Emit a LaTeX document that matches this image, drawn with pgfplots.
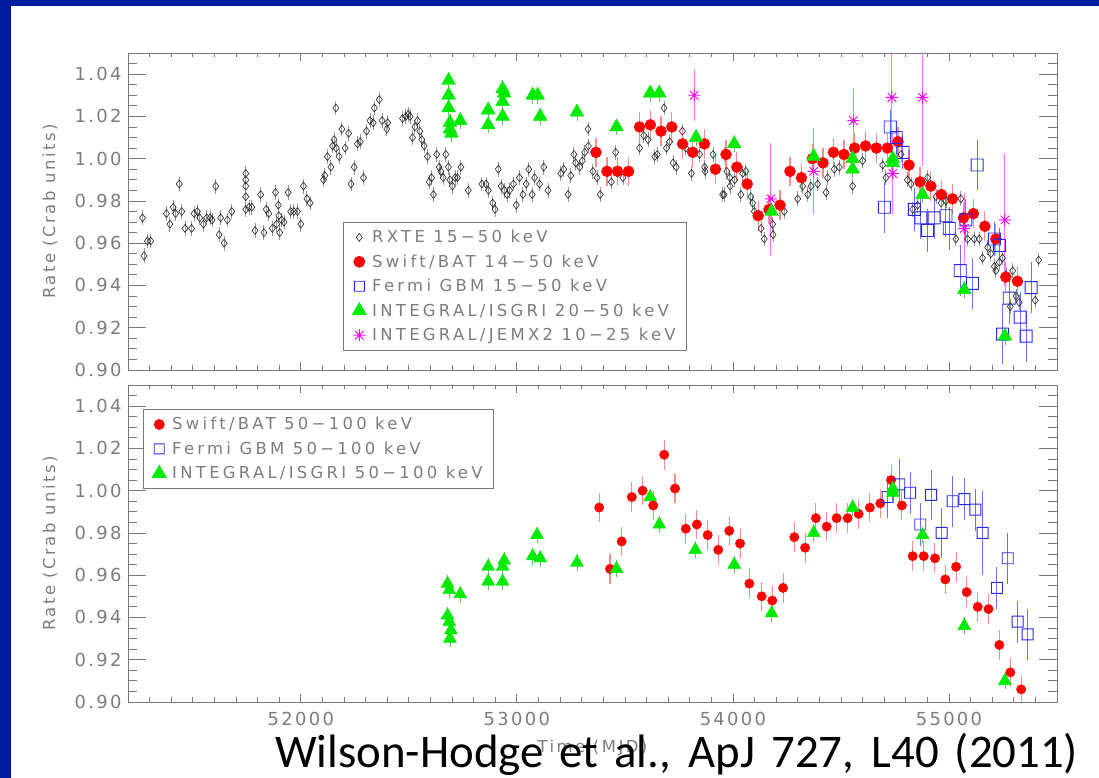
\documentclass[border=0pt]{standalone}
\usepackage{fontspec}
\setmainfont{DejaVu Sans}
\newfontfamily\legfont[LetterSpace=20]{DejaVu Sans}
\newfontfamily\labfont[LetterSpace=15]{DejaVu Sans}
\newfontfamily\tickfont[LetterSpace=13]{DejaVu Sans}
\newfontfamily\capfont{Carlito}
\usepackage{pgfplots}
\usepackage{pgfplotstable}
\pgfplotsset{compat=1.18}

\definecolor{frameblue}{RGB}{0,26,160}
\definecolor{axgray}{RGB}{120,120,120}
\definecolor{txtgray}{RGB}{125,125,125}
\definecolor{mred}{RGB}{255,0,0}
\definecolor{ered}{RGB}{255,140,140}
\definecolor{mgreen}{RGB}{0,235,0}
\definecolor{egreen}{RGB}{90,200,90}
\definecolor{mblue}{RGB}{40,40,235}
\definecolor{eblue}{RGB}{110,110,255}
\definecolor{mmag}{RGB}{255,0,255}
\definecolor{emag}{RGB}{255,120,255}

\pgfplotstableread{
x y e
54701 0.977 0.012
54728 1.015 0.008
54756 1.010 0.008
54787 1.003 0.008
54840 0.976 0.010
54870 0.972 0.010
54901 0.966 0.010
54932 0.972 0.010
54986 0.973 0.010
55001 0.967 0.010
55052 0.947 0.012
55078 0.971 0.010
55109 0.941 0.012
55130 0.997 0.012
55210 0.962 0.008
55233 0.959 0.008
55248 0.917 0.014
55279 0.934 0.012
55329 0.925 0.012
55357 0.916 0.012
55380 0.939 0.012
}\gbmtop

\pgfplotstableread{
x y e
54716 0.997 0.010
54770 1.003 0.012
54820 0.999 0.010
54867 0.984 0.010
54917 0.998 0.012
54966 0.980 0.012
55017 0.995 0.012
55071 0.996 0.010
55122 0.991 0.010
55156 0.980 0.020
55222 0.954 0.010
55272 0.968 0.012
55318 0.938 0.010
55364 0.932 0.012
}\gbmbot

\pgfdeclareplotmark{idlstar}{%
  \pgfpathmoveto{\pgfqpoint{-\pgfplotmarksize}{0pt}}\pgfpathlineto{\pgfqpoint{\pgfplotmarksize}{0pt}}%
  \pgfpathmoveto{\pgfqpoint{0pt}{-\pgfplotmarksize}}\pgfpathlineto{\pgfqpoint{0pt}{\pgfplotmarksize}}%
  \pgfpathmoveto{\pgfqpoint{-0.7071\pgfplotmarksize}{-0.7071\pgfplotmarksize}}\pgfpathlineto{\pgfqpoint{0.7071\pgfplotmarksize}{0.7071\pgfplotmarksize}}%
  \pgfpathmoveto{\pgfqpoint{-0.7071\pgfplotmarksize}{0.7071\pgfplotmarksize}}\pgfpathlineto{\pgfqpoint{0.7071\pgfplotmarksize}{-0.7071\pgfplotmarksize}}%
  \pgfusepathqstroke}
% open square drawn as a filled frame (outer minus inner square)
\pgfdeclareplotmark{opensq}{%
  \pgfscope
  \pgfsetfillcolor{mblue}%
  \pgfpathrectangle{\pgfpoint{-\pgfplotmarksize-0.45bp}{-\pgfplotmarksize-0.45bp}}{\pgfpoint{2\pgfplotmarksize+0.9bp}{2\pgfplotmarksize+0.9bp}}%
  \pgfpathrectangle{\pgfpoint{-\pgfplotmarksize+0.45bp}{-\pgfplotmarksize+0.45bp}}{\pgfpoint{2\pgfplotmarksize-0.9bp}{2\pgfplotmarksize-0.9bp}}%
  \pgfseteorule
  \pgfusepathqfill
  \endpgfscope}

\pgfplotsset{
  panelbase/.style={
    scale only axis, width=929bp, height=317bp,
    xmin=51200, xmax=55500, ymin=0.90, ymax=1.05,
    scaled x ticks=false, scaled y ticks=false,
    tick align=inside, tick pos=both,
    axis line style={draw=axgray, line width=0.9bp},
    tick style={draw=axgray, line width=0.8bp},
    ticklabel style={font=\tickfont\fontsize{18}{20}\selectfont, text=txtgray},
  },
  yframe/.style={panelbase,
    xtick=\empty,
    ytick={0.90,0.92,0.94,0.96,0.98,1.00,1.02,1.04},
    yticklabels={0.90,0.92,0.94,0.96,0.98,1.00,1.02,1.04},
    minor ytick={0.905,0.910,...,1.046},
    major tick length=18bp, minor tick length=9bp,
    yticklabel style={xshift=-3bp},
    ylabel={Rate (Crab units)},
    every axis y label/.style={at={(rel axis cs:-0.08396,0.5)}, rotate=90, anchor=center,
      font=\labfont\fontsize{16.5}{19}\selectfont, text=txtgray},
  },
  xframe/.style={panelbase,
    ytick=\empty,
    xtick={52000,53000,54000,55000},
    minor xtick={51300,51400,...,55400},
    major tick length=8bp, minor tick length=4.5bp,
    xticklabel style={yshift=-7bp},
    legend cell align=left,
    legend style={draw=axgray, line width=0.8bp, font=\legfont\fontsize{16.5}{19}\selectfont,
      text=txtgray, fill=white, inner xsep=9bp, inner ysep=6bp, row sep=6.5bp, column sep=4bp},
  },
  rxte/.style={only marks, mark=diamond, mark size=4bp, mark options={draw=black!85, line width=0.6bp}},
  bat/.style={only marks, mark=*, mark size=5.5bp, mark options={draw=mred, fill=mred}},
  gbm/.style={only marks, mark=opensq, mark size=6bp, mark options={draw=none, fill=mblue}},
  isgri/.style={only marks, mark=triangle*, mark size=8bp, mark options={draw=mgreen, fill=mgreen}},
  jemx/.style={only marks, mark=idlstar, mark size=6bp, mark options={draw=mmag, line width=0.9bp}},
}

\begin{document}
\begin{tikzpicture}
\fill[white] (0,0) rectangle (1099bp,778bp);
\fill[frameblue] (0,772bp) rectangle (1099bp,778bp);
\fill[frameblue] (0,0) rectangle (11bp,778bp);

% ---------------- upper panel ----------------
\begin{axis}[yframe, at={(128bp,408bp)}, anchor=south west]
\end{axis}
\begin{axis}[xframe, at={(128bp,408bp)}, anchor=south west, xticklabels={},
  legend style={at={(0.2314,0.467)}, anchor=north west}]
\addlegendimage{rxte}\addlegendentry{RXTE 15−50 keV}
\addlegendimage{bat}\addlegendentry{Swift/BAT 14−50 keV}
\addlegendimage{gbm, mark size=5bp}\addlegendentry{Fermi GBM 15−50 keV}
\addlegendimage{isgri}\addlegendentry{INTEGRAL/ISGRI 20−50 keV}
\addlegendimage{jemx}\addlegendentry{INTEGRAL/JEMX2 10−25 keV}

\addplot[rxte, forget plot, error bars/.cd, y dir=both, y fixed=0.0035, error mark=none,
  error bar style={draw=black!40, line width=0.9bp}]
table {
51267 0.972
51274 0.954
51290 0.961
51305 0.961
51378 0.974
51394 0.969
51409 0.977
51420 0.974
51437 0.988
51449 0.975
51464 0.967
51494 0.967
51506 0.974
51521 0.975
51532 0.972
51549 0.969
51564 0.972
51580 0.972
51589 0.971
51606 0.987
51622 0.964
51629 0.972
51645 0.960
51660 0.971
51680 0.975
51745 0.993
51745 0.990
51745 0.987
51745 0.982
51745 0.976
51760 0.977
51773 0.977
51788 0.966
51814 0.983
51829 0.965
51840 0.976
51852 0.974
51868 0.967
51883 0.984
51888 0.969
51896 0.978
51898 0.973
51902 0.965
51911 0.971
51922 0.970
51941 0.984
51953 0.975
51968 0.975
51984 0.975
52000 0.969
52012 0.987
52028 0.981
52043 0.979
52105 0.990
52111 0.992
52123 1.001
52139 0.996
52147 1.006
52154 1.009
52162 1.024
52164 1.005
52177 1.001
52190 1.014
52205 1.005
52221 1.012
52232 0.988
52247 0.996
52262 1.007
52275 1.008
52290 0.991
52304 1.013
52320 1.018
52335 1.017
52340 1.024
52363 1.028
52376 1.018
52398 1.014
52402 1.017
52471 1.019
52486 1.020
52497 1.021
52506 1.020
52517 1.010
52528 1.015
52540 1.018
52551 1.013
52560 1.009
52571 1.006
52586 1.001
52594 0.989
52605 0.991
52614 0.983
52629 1.002
52640 0.996
52648 0.994
52659 0.991
52671 1.002
52683 0.996
52690 0.990
52702 0.987
52714 0.991
52725 0.991
52741 0.996
52775 0.985
52838 0.988
52857 0.988
52868 0.985
52888 0.979
52899 0.976
52914 0.995
52927 0.987
52942 0.985
52955 0.983
52966 0.985
52984 0.988
52997 0.978
53012 0.991
53028 0.983
53043 0.988
53055 0.995
53071 0.983
53082 0.991
53105 0.988
53124 0.996
53144 0.985
53203 0.993
53217 0.995
53237 0.983
53249 0.992
53264 1.002
53272 0.998
53291 0.996
53303 0.999
53314 1.003
53329 1.014
53331 1.006
53352 0.994
53371 0.991
53386 0.983
53437 0.989
53457 1.003
53491 0.991
53568 1.005
53587 1.011
53607 1.009
53638 1.001
53650 1.002
53681 1.024
53692 1.005
53707 1.008
53723 0.998
53738 0.996
53766 1.013
53782 1.005
53808 0.993
53846 1.002
53869 0.996
53871 0.994
53908 1.002
53952 0.983
53959 0.983
53960 1.002
53972 0.994
53985 0.991
53987 0.987
54008 0.990
54037 0.983
54045 0.993
54060 0.994
54083 0.982
54091 0.979
54099 0.975
54130 0.967
54145 0.962
54184 0.969
54186 0.964
54238 0.975
54300 0.981
54323 0.987
54346 0.983
54361 0.987
54392 0.988
54431 0.984
54438 0.991
54469 0.995
54492 0.996
54554 0.987
54600 0.999
54693 0.997
54708 0.991
54778 1.002
54808 0.990
54824 0.988
54832 0.976
54855 0.978
54901 0.991
54940 0.982
54963 0.979
54986 0.980
55032 0.962
55055 0.981
55086 0.962
55117 0.962
55140 0.962
55155 0.953
55179 0.958
55194 0.955
55210 0.949
55217 0.947
55233 0.951
55248 0.953
55264 0.945
55284 0.930
55295 0.947
55310 0.935
55325 0.932
55399 0.933
55415 0.952
};

\addplot[bat, forget plot, error bars/.cd, y dir=both, y explicit, error mark=none,
  error bar style={draw=ered, line width=1.1bp}]
table[x index=0, y index=1, y error index=2] {
53366 1.003 0.007
53417 0.994 0.007
53466 0.994 0.007
53517 0.994 0.007
53568 1.015 0.007
53618 1.016 0.007
53667 1.013 0.007
53717 1.015 0.007
53767 1.007 0.007
53814 1.003 0.007
53868 1.007 0.007
53919 0.995 0.007
53968 1.002 0.007
54018 0.996 0.007
54066 0.988 0.007
54117 0.973 0.007
54167 0.976 0.007
54218 0.978 0.007
54264 0.994 0.007
54317 0.991 0.007
54368 1.000 0.007
54417 0.998 0.007
54465 1.003 0.007
54514 1.002 0.007
54563 1.005 0.007
54614 1.006 0.007
54664 1.005 0.007
54715 1.005 0.007
54764 1.008 0.007
54815 0.997 0.007
54866 0.989 0.007
54916 0.987 0.007
54965 0.983 0.007
55016 0.981 0.007
55067 0.972 0.007
55113 0.974 0.007
55166 0.968 0.007
55217 0.962 0.007
55263 0.944 0.007
55317 0.942 0.007
};

\addplot[gbm, forget plot, error bars/.cd, y dir=both, y explicit, error mark=none,
  error bar style={draw=eblue, line width=1bp}]
table[x=x, y=y, y error=e] {\gbmtop};

\addplot[isgri, forget plot, error bars/.cd, y dir=both, y fixed=0.004, error mark=none,
  error bar style={draw=egreen, line width=0.8bp}]
table {
52684 1.037
52684 1.030
52684 1.024
52690 1.017
52690 1.014
52697 1.012
52738 1.018
52867 1.023
52867 1.016
52934 1.033
52941 1.031
52934 1.027
52934 1.020
53073 1.030
53096 1.030
53108 1.020
53278 1.022
53461 1.015
53617 1.031
53659 1.031
53829 1.010
54006 1.007
54179 0.975
54374 1.001
54554 1.000
54554 0.995
54740 1.000
54740 0.998
54878 0.983
55071 0.938
55259 0.916
};

\addplot[jemx, forget plot, error bars/.cd, y dir=both, y explicit, error mark=-,
  error bar style={draw=emag, line width=1bp}, error mark options={draw=emag, line width=1bp, mark size=5bp}]
table[x index=0, y index=1, y error index=2] {
53821 1.030 0.010
54176 0.981 0.024
54374 0.994 0.018
54557 1.018 0.0125
54736 1.029 0.035
54740 0.993 0.017
54878 1.029 0.030
55071 0.967 0.014
55259 0.971 0.029
};
\end{axis}

% ---------------- lower panel ----------------
\begin{axis}[yframe, at={(128bp,76bp)}, anchor=south west]
\end{axis}
\begin{axis}[xframe, at={(128bp,76bp)}, anchor=south west,
  xticklabels={52000,53000,54000,55000},
  xlabel={Time (MJD)},
  every axis x label/.style={at={(rel axis cs:0.5,-0.145)}, anchor=center,
      font=\labfont\fontsize{16.5}{19}\selectfont, text=txtgray},
  legend style={at={(0.0161,0.924)}, anchor=north west}]
\addlegendimage{bat, mark size=5bp}\addlegendentry{Swift/BAT 50−100 keV}
\addlegendimage{gbm, mark size=5bp}\addlegendentry{Fermi GBM 50−100 keV}
\addlegendimage{isgri}\addlegendentry{INTEGRAL/ISGRI 50−100 keV}

\addplot[bat, mark size=4.7bp, forget plot, error bars/.cd, y dir=both, y explicit, error mark=none,
  error bar style={draw=ered, line width=1.1bp}]
table[x index=0, y index=1, y error index=2] {
53381 0.992 0.007
53431 0.963 0.007
53485 0.976 0.007
53532 0.997 0.007
53582 1.000 0.007
53631 0.993 0.007
53682 1.017 0.007
53732 1.001 0.007
53782 0.982 0.007
53833 0.984 0.007
53883 0.979 0.007
53932 0.972 0.007
53983 0.981 0.007
54033 0.975 0.007
54076 0.956 0.007
54133 0.950 0.007
54182 0.948 0.007
54232 0.954 0.007
54284 0.978 0.007
54334 0.973 0.007
54384 0.987 0.007
54434 0.983 0.007
54480 0.987 0.007
54531 0.987 0.007
54582 0.989 0.007
54634 0.992 0.007
54682 0.994 0.007
54732 1.005 0.007
54782 0.993 0.007
54832 0.969 0.007
54883 0.969 0.007
54935 0.968 0.007
54983 0.958 0.007
55033 0.964 0.007
55082 0.952 0.007
55133 0.945 0.007
55183 0.944 0.007
55233 0.927 0.007
55284 0.914 0.007
55334 0.906 0.007
};

\addplot[gbm, mark size=5.5bp, forget plot, error bars/.cd, y dir=both, y explicit, error mark=none,
  error bar style={draw=eblue, line width=1bp}]
table[x=x, y=y, y error=e] {\gbmbot};

\addplot[isgri, mark size=7.5bp, forget plot, error bars/.cd, y dir=both, y fixed=0.004, error mark=none,
  error bar style={draw=egreen, line width=0.8bp}]
table {
52679 0.956
52687 0.953
52679 0.941
52687 0.938
52695 0.934
52690 0.930
52738 0.951
52867 0.964
52867 0.957
52934 0.957
52941 0.967
52934 0.964
53073 0.969
53093 0.979
53108 0.968
53278 0.966
53461 0.963
53617 0.997
53659 0.984
53826 0.972
54006 0.965
54179 0.942
54374 0.980
54554 0.992
54740 0.999
54740 1.001
54878 0.979
55071 0.936
55259 0.910
};
\end{axis}

\node[anchor=base west, inner sep=0pt, font=\capfont\fontsize{47}{50}\selectfont, text=black]
  at (275bp,11bp) {\makebox[803bp][s]{Wilson-Hodge et al., ApJ 727, L40 (2011)}};

\pgfresetboundingbox
\path[use as bounding box] (0,0) rectangle (1099bp,778bp);
\end{tikzpicture}
\end{document}
